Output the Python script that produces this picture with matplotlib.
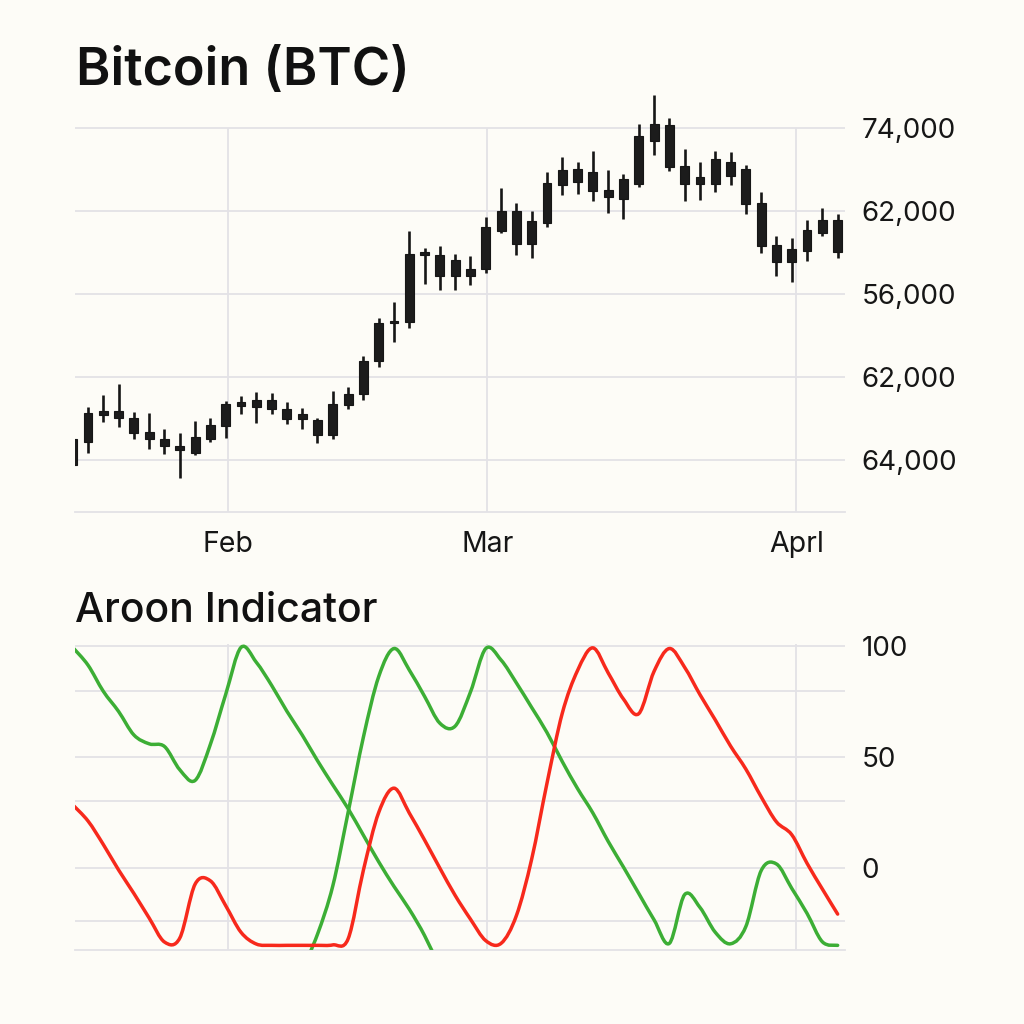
import numpy as np
import matplotlib
matplotlib.use("Agg")
import matplotlib.pyplot as plt
from matplotlib.path import Path
from matplotlib.patches import PathPatch

plt.rcParams['font.family'] = ['Inter', 'DejaVu Sans']

nan = np.nan

# ---- candlestick data (price units) ----
opens = [51500, 51290, 53240, 53020, 53060, 52010, 51550, 51000, 50540, 51520,
         52480, 53910, 54360, 54360, 53710, 53330, 52900, 51810, 53980, 54750,
         57160, 59880, 59990, 64810, 64790, 64450, 63780, 63820, 66560, 67960,
         67260, 67140, 69890, 71020, 70800, 69500, 68870, 69910, 73020, 74220,
         71210, 70420, 69960, 71550, 71020, 68590, 65550, 65260, 65120, 66420,
         67340]
closes = [49650, 53380, 53520, 53520, 51940, 51550, 51000, 50730, 51650, 52540,
          54030, 54200, 53860, 53670, 52950, 52950, 51810, 54030, 54770, 57160,
          59880, 60020, 64860, 65000, 63290, 63290, 63290, 66850, 68010, 65630,
          65630, 70010, 70970, 70100, 69430, 69020, 70270, 73420, 74250, 71140,
          69960, 69960, 71740, 70490, 68510, 65440, 64330, 64330, 66610, 67340,
          65050]
highs = [51500, 53860, 54700, 55470, 53450, 53380, 52250, 51940, 52850, 53020,
         54250, 54630, 54900, 54820, 54170, 53740, 53020, 55010, 55300, 57520,
         60240, 61420, 66540, 65340, 65460, 64860, 64740, 67530, 69630, 68540,
         68010, 70800, 71910, 71520, 72320, 70950, 70640, 74270, 76340, 74680,
         72440, 71550, 72320, 72270, 71310, 69380, 66180, 66040, 67340, 68180,
         67770]
lows = [49650, 50540, 52730, 52370, 51500, 50800, 50420, 48730, 50350, 51290,
        51620, 53310, 52660, 53310, 52610, 52220, 51260, 51550, 53670, 54340,
        56740, 58510, 59520, 62720, 62280, 62280, 62620, 63530, 66420, 64790,
        64570, 66810, 69140, 69190, 68730, 67860, 67390, 69700, 72030, 70870,
        68690, 68760, 69340, 69890, 67750, 64980, 63290, 62880, 64400, 66180,
        64570]

price_ticks = [74000, 68000, 62000, 56000, 50000]
price_tick_labels = ['74,000', '62,000', '56,000', '62,000', '64,000']
month_pos = [10.15, 27.1, 47.3]
month_labels = ['Feb', 'Mar', 'Aprl']

# ---- Aroon data ----
aroon_up_a = [99.5, 91.5, 79.7, 70.6, 60, 56, 54.8, 44.3, 39.5, 55.8,
              78.3, 99.5, 92.8, 82.4, 70.7, 60, 48.4, 37.5, 26.8, 14.8,
              2.8, -8.3, -18.6, -30.5, -45] + [nan] * 26
aroon_up_b = [nan] * 15 + [-46, -29.9, -8.1, 25, 59,
              86.3, 99, 89.3, 77.4, 65.3, 64, 79.4, 99, 93.8, 83.5,
              72.4, 61.1, 48, 35.8, 24.8, 12, 0.4, -11.5, -23.4, -34,
              -12, -17.8, -29, -34.2, -26.4, -1.2, 1.8, -9.2, -20.5, -33.3,
              -34.9]
aroon_down = [28.5, 21.2, 10.6, -0.9, -11.5, -22.6, -33.4, -31.6, -7.3, -5.8,
              -17, -29, -34.3, -34.9, -34.9, -34.9, -34.9, -34.7, -32, -1,
              25, 36, 24.8, 12.6, -0.1, -12.4, -23.1, -32.8, -34, -21.5,
              4, 38.2, 69.8, 89.1, 99.3, 88, 76.2, 69.6, 88.7, 99,
              90.5, 78.2, 66.8, 55, 44.6, 32.1, 20.8, 15, 2.1, -9.5,
              -20.8]
aroon_ticks = [100, 50, 0]
aroon_tick_labels = ['100', '50', '0']
aroon_grid = [100, 80, 50, 30, 0, -24]

BG = '#fdfcf7'
GRID = '#e3e2e6'
INK = '#161616'
GREEN = '#3cae35'
RED = '#f7291c'


def smooth_line(ax, xs, ys, color, lw):
    """Draw a series as a smooth (Catmull-Rom style) Bezier path in data coords."""
    xs = np.asarray(xs, float)
    ys = np.asarray(ys, float)
    ok = ~np.isnan(ys)
    idx = np.where(ok)[0]
    if len(idx) == 0:
        return
    splits = np.where(np.diff(idx) > 1)[0] + 1
    for seg in np.split(idx, splits):
        px, py = xs[seg], ys[seg]
        m = len(px)
        if m < 2:
            continue
        verts = [(px[0], py[0])]
        codes = [Path.MOVETO]
        for i in range(m - 1):
            i0 = max(i - 1, 0)
            i3 = min(i + 2, m - 1)
            c1 = (px[i] + (px[i + 1] - px[i0]) / 6.0, py[i] + (py[i + 1] - py[i0]) / 6.0)
            c2 = (px[i + 1] - (px[i3] - px[i]) / 6.0, py[i + 1] - (py[i3] - py[i]) / 6.0)
            verts += [c1, c2, (px[i + 1], py[i + 1])]
            codes += [Path.CURVE4] * 3
        patch = PathPatch(Path(verts, codes), facecolor='none', edgecolor=color,
                          lw=lw, capstyle='round', joinstyle='round', zorder=3)
        ax.add_patch(patch)


fig = plt.figure(figsize=(10.24, 10.24), dpi=100, facecolor=BG)
ax1 = fig.add_axes([75/1024, (1024-512)/1024, 770/1024, 420/1024])
ax2 = fig.add_axes([75/1024, 74/1024, 770/1024, 305.7/1024])

XL = (0.15, 50.48)
for ax in (ax1, ax2):
    ax.set_facecolor(BG)
    for s in ['top', 'left', 'right']:
        ax.spines[s].set_visible(False)
    ax.spines['bottom'].set_color(GRID)
    ax.spines['bottom'].set_linewidth(1.3)
    ax.yaxis.tick_right()

# ---- candles ----
n = len(opens)
x = np.arange(n)
o = np.array(opens, float)
c = np.array(closes, float)
bot = np.minimum(o, c)
hgt = np.maximum(np.abs(c - o), 80)
ax1.vlines(x, lows, highs, color=INK, lw=1.9, zorder=3)
ax1.bar(x, hgt, bottom=bot, width=0.58, color='#1c1c1c', edgecolor=INK,
        linewidth=0.8, zorder=4)

ax1.set_xlim(*XL)
ax1.set_ylim(46254, 76578)
ax1.set_yticks(price_ticks)
ax1.set_yticklabels(price_tick_labels)
ax1.grid(axis='y', color=GRID, lw=1.3, zorder=0)
ax1.vlines(month_pos, 46254, 74000, color=GRID, lw=1.3, zorder=0)
ax1.set_xticks(month_pos)
ax1.set_xticklabels(month_labels)
ax1.tick_params(axis='y', length=0, pad=12, labelsize=20, labelcolor=INK)
ax1.tick_params(axis='x', length=0, pad=14, labelsize=20.5, labelcolor=INK)

# ---- Aroon ----
for g in aroon_grid:
    ax2.axhline(g, color=GRID, lw=1.3, zorder=0)
ax2.vlines(month_pos, -37, 100.9, color=GRID, lw=1.3, zorder=0)
smooth_line(ax2, x, aroon_up_a, GREEN, 2.5)
smooth_line(ax2, x, aroon_up_b, GREEN, 2.5)
smooth_line(ax2, x, aroon_down, RED, 2.5)
ax2.set_xlim(*XL)
ax2.set_ylim(-37, 100.9)
ax2.set_yticks(aroon_ticks)
ax2.set_yticklabels(aroon_tick_labels)
ax2.set_xticks([])
ax2.tick_params(axis='y', length=0, pad=12, labelsize=20, labelcolor=INK)

fig.text(76/1024, 1 - 85/1024, 'Bitcoin (BTC)', fontsize=37.5, fontweight='semibold',
         color='#111111', va='baseline', ha='left')
fig.text(75/1024, 1 - 622/1024, 'Aroon Indicator', fontsize=29.5, fontweight='medium',
         color='#111111', va='baseline', ha='left')

fig.savefig('out.png', dpi=100, facecolor=BG)
